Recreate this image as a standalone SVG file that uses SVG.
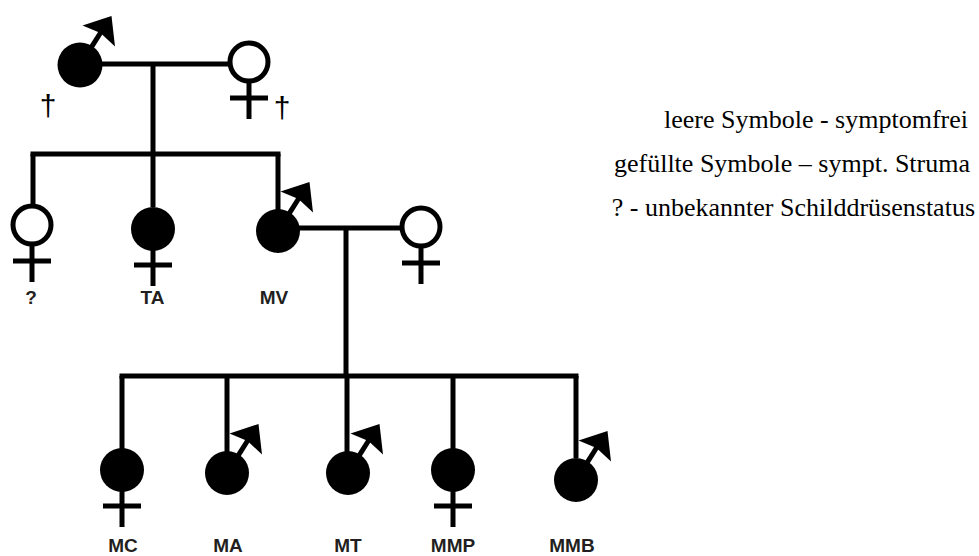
<svg xmlns="http://www.w3.org/2000/svg" xmlns:xlink="http://www.w3.org/1999/xlink" width="979" height="556" viewBox="0 0 979 556">
<style>
.ln{stroke:#000;stroke-width:5;fill:none;stroke-linecap:butt}
.fill{fill:#000}
.open{fill:#fff;stroke:#000;stroke-width:5}
.lbl{font-family:"Liberation Sans",Arial,sans-serif;font-weight:bold;font-size:19px;fill:#231f20;text-anchor:middle}
.dag{font-family:"Liberation Sans",Arial,sans-serif;font-size:30px;fill:#000;text-anchor:middle}
.leg{font-family:"Liberation Serif","Times New Roman",serif;font-size:26px;fill:#000;text-anchor:end}
</style>
<defs>
<g id="arrow">
<line x1="10.8" y1="-16.8" x2="21" y2="-33" stroke="#000" stroke-width="5"/>
<polygon points="31.5,-49 2.5,-39.5 20.5,-32 35,-18.5" fill="#000"/>
</g>
<g id="cross">
<line x1="0" y1="20" x2="0" y2="57" stroke="#000" stroke-width="5"/>
<line x1="-19" y1="36" x2="19" y2="36" stroke="#000" stroke-width="5"/>
</g>
</defs>
<rect width="979" height="556" fill="#fff"/>
<g id="connectors">
<line class="ln" x1="100" y1="64" x2="230" y2="64"/>
<line class="ln" x1="153" y1="64" x2="153" y2="207"/>
<line class="ln" x1="30.5" y1="154" x2="280.5" y2="154"/>
<line class="ln" x1="33" y1="154" x2="33" y2="205"/>
<line class="ln" x1="278" y1="154" x2="278" y2="210"/>
<line class="ln" x1="298" y1="228" x2="402" y2="228"/>
<line class="ln" x1="346" y1="228" x2="346" y2="376"/>
<line class="ln" x1="119.5" y1="376" x2="578.5" y2="376"/>
<line class="ln" x1="122" y1="376" x2="122" y2="449"/>
<line class="ln" x1="227" y1="376" x2="227" y2="452"/>
<line class="ln" x1="347" y1="376" x2="347" y2="452"/>
<line class="ln" x1="453" y1="376" x2="453" y2="449"/>
<line class="ln" x1="576" y1="376" x2="576" y2="458"/>
</g>
<g id="grandfather">
<circle class="fill" cx="80" cy="65" r="22.5"/>
<use xlink:href="#arrow" href="#arrow" transform="translate(80,65)"/>
<text class="dag" x="48" y="116">†</text>
</g>
<g id="grandmother">
<use xlink:href="#cross" href="#cross" transform="translate(249,62)"/>
<circle class="open" cx="249" cy="62" r="19"/>
<text class="dag" x="282" y="118">†</text>
</g>
<g id="unknown">
<use xlink:href="#cross" href="#cross" transform="translate(32,225)"/>
<circle class="open" cx="32" cy="225" r="19"/>
<text class="lbl" x="31" y="304">?</text>
</g>
<g id="TA">
<use xlink:href="#cross" href="#cross" transform="translate(153,229)"/>
<circle class="fill" cx="153" cy="229" r="22"/>
<text class="lbl" x="152.5" y="304">TA</text>
</g>
<g id="MV">
<circle class="fill" cx="278" cy="231" r="22"/>
<use xlink:href="#arrow" href="#arrow" transform="translate(278,231)"/>
<text class="lbl" x="274" y="304">MV</text>
</g>
<g id="MV_wife">
<use xlink:href="#cross" href="#cross" transform="translate(421,227)"/>
<circle class="open" cx="421" cy="227" r="19"/>
</g>
<g id="MC">
<use xlink:href="#cross" href="#cross" transform="translate(122,470)"/>
<circle class="fill" cx="122" cy="470" r="22"/>
<text class="lbl" x="123" y="552">MC</text>
</g>
<g id="MA">
<circle class="fill" cx="227" cy="473" r="22"/>
<use xlink:href="#arrow" href="#arrow" transform="translate(227,473)"/>
<text class="lbl" x="228" y="552">MA</text>
</g>
<g id="MT">
<circle class="fill" cx="348" cy="473" r="22"/>
<use xlink:href="#arrow" href="#arrow" transform="translate(348,473)"/>
<text class="lbl" x="348" y="552">MT</text>
</g>
<g id="MMP">
<use xlink:href="#cross" href="#cross" transform="translate(453,470)"/>
<circle class="fill" cx="453" cy="470" r="22"/>
<text class="lbl" x="453" y="552">MMP</text>
</g>
<g id="MMB">
<circle class="fill" cx="576" cy="480" r="22"/>
<use xlink:href="#arrow" href="#arrow" transform="translate(576,480)"/>
<text class="lbl" x="572" y="552">MMB</text>
</g>
<g id="legend">
<text class="leg" x="968" y="128">leere Symbole - symptomfrei</text>
<text class="leg" x="970" y="172">gefüllte Symbole – sympt. Struma</text>
<text class="leg" x="975" y="216">? - unbekannter Schilddrüsenstatus</text>
</g>
</svg>
